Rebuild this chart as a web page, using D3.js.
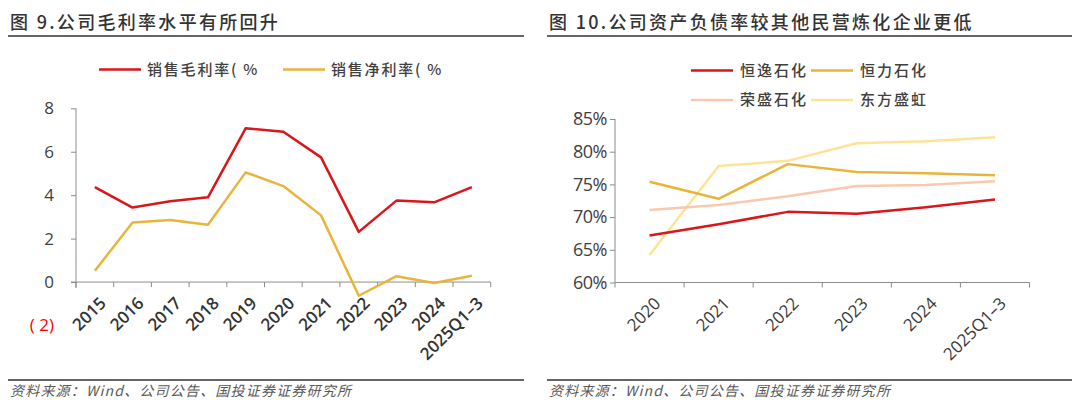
<!DOCTYPE html>
<html><head><meta charset="utf-8">
<script src="https://cdn.jsdelivr.net/npm/d3@7/dist/d3.min.js"></script>
<style>
html,body{margin:0;padding:0;background:#fff;}
svg{display:block;}
text{font-family:"Open Sans","Noto Sans CJK SC",sans-serif;}
.cjk{font-family:"Noto Sans CJK SC",sans-serif;}
</style></head>
<body><svg id="c" width="1080" height="416"></svg>
<script>
// ---- Left chart data ----
const catsL = ["2015","2016","2017","2018","2019","2020","2021","2022","2023","2024","2025Q1-3"];
const labelsL = ["2015","2016","2017","2018","2019","2020","2021","2022","2023","2024","2025Q1–3"];
const grossMargin = [4.37, 3.43, 3.72, 3.9, 7.08, 6.92, 5.74, 2.31, 3.75, 3.67, 4.37];
const netMargin   = [0.52, 2.74, 2.86, 2.64, 5.05, 4.42, 3.07, -0.63, 0.27, -0.04, 0.29];
const yTicksL = [-2, 0, 2, 4, 6, 8];
const seriesNamesL = ["销售毛利率( %", "销售净利率( %"];

// ---- Right chart data ----
const catsR = ["2020","2021","2022","2023","2024","2025Q1-3"];
const labelsR = ["2020","2021","2022","2023","2024","2025Q1–3"];
const hengyi    = [0.672, 0.689, 0.708, 0.705, 0.715, 0.727];
const hengli    = [0.754, 0.728, 0.781, 0.769, 0.767, 0.764];
const rongsheng = [0.711, 0.7185, 0.732, 0.7475, 0.749, 0.755];
const dongfang  = [0.642, 0.778, 0.786, 0.813, 0.816, 0.822];
const yTicksR = [0.60, 0.65, 0.70, 0.75, 0.80, 0.85];
const seriesNamesR = ["恒逸石化", "恒力石化", "荣盛石化", "东方盛虹"];

const titleL = "图 9.公司毛利率水平有所回升";
const titleR = "图 10.公司资产负债率较其他民营炼化企业更低";
const source = "资料来源：Wind、公司公告、国投证券证券研究所";

const RED = "#D9161C", GOLD = "#E9B43A", PEACH = "#F8C9AE", LIGHTY = "#FEE397";
const AXIS = "#8C8C8C", TXT = "#404040";

const svg = d3.select("#c");
svg.append("rect").attr("width",1080).attr("height",416).attr("fill","#fff");

function header(x0, x1, title){
  svg.append("text").attr("class","cjk").attr("x", x0+2).attr("y", 29)
    .attr("font-size", 18).attr("font-weight", 500).attr("letter-spacing", 2.3)
    .attr("fill", "#333").text(title);
  svg.append("line").attr("x1", x0).attr("x2", x1).attr("y1", 36).attr("y2", 36)
    .attr("stroke", "#333").attr("stroke-width", 1.6);
  svg.append("line").attr("x1", x0).attr("x2", x1).attr("y1", 380).attr("y2", 380)
    .attr("stroke", "#333").attr("stroke-width", 1.6);
  svg.append("text").attr("class","cjk").attr("x", x0+2).attr("y", 396)
    .attr("font-size", 14).attr("font-style","italic").attr("letter-spacing", 1.2)
    .attr("fill", "#595959").text(source);
}
header(8, 524, titleL);
header(547, 1072, titleR);

// ---------- LEFT ----------
const xL = d3.scaleBand().domain(catsL).range([76, 490.7]);
const yL = d3.scaleLinear().domain([-2, 8]).range([325.5, 108.3]);
const gL = svg.append("g");

const yAxL = d3.axisLeft(yL).tickValues(yTicksL).tickSize(5).tickPadding(17)
  .tickFormat(d => d < 0 ? "( " + (-d) + ")" : d);
const gyL = gL.append("g").attr("transform","translate(76,0)").call(yAxL);
gyL.select(".domain").remove();
gyL.selectAll(".tick line").attr("stroke", AXIS).attr("stroke-width",1)
  .attr("display", d => d < 0 ? "none" : null);
gyL.selectAll(".tick text").attr("font-size", 17).attr("font-family","Open Sans, sans-serif")
  .attr("fill", d => d < 0 ? "#FF0000" : TXT);
gL.append("line").attr("x1",76).attr("x2",76).attr("y1", yL(8)).attr("y2", yL(0)+6)
  .attr("stroke", AXIS).attr("stroke-width",1);
gL.append("line").attr("x1",71).attr("x2",xL.range()[1]).attr("y1",yL(0)).attr("y2",yL(0))
  .attr("stroke", AXIS).attr("stroke-width",1);
const bndL = catsL.map(d => xL(d)).concat([xL.range()[1]]);
gL.selectAll(".xtick").data(bndL).join("line")
  .attr("x1", d=>d).attr("x2", d=>d).attr("y1", yL(0)).attr("y2", yL(0)+5)
  .attr("stroke", AXIS).attr("stroke-width",1);
gL.selectAll(".xlab").data(catsL).join("text")
  .attr("transform", d => `translate(${xL(d)+xL.bandwidth()/2+8},${yL(0)+18}) rotate(-45)`)
  .attr("text-anchor","end").attr("dy","0.35em")
  .attr("font-size", 17).attr("font-weight", 600).attr("fill", "#333")
  .text((d,i) => labelsL[i]);

const lineL = d3.line().x((d,i) => xL(catsL[i]) + xL.bandwidth()/2).y(d => yL(d));
gL.append("path").attr("d", lineL(netMargin)).attr("fill","none").attr("stroke", GOLD).attr("stroke-width",2.5).attr("stroke-linejoin","round");
gL.append("path").attr("d", lineL(grossMargin)).attr("fill","none").attr("stroke", RED).attr("stroke-width",2.5).attr("stroke-linejoin","round");

const legL = [{n: seriesNamesL[0], c: RED, x: 99}, {n: seriesNamesL[1], c: GOLD, x: 283}];
legL.forEach(l => {
  gL.append("line").attr("x1", l.x).attr("x2", l.x+42).attr("y1", 69.5).attr("y2", 69.5)
    .attr("stroke", l.c).attr("stroke-width", 2.5);
  gL.append("text").attr("class","cjk").attr("x", l.x+48).attr("y", 69.5).attr("dy","0.35em")
    .attr("font-size", 15).attr("font-weight", 500).attr("letter-spacing", 1.8).attr("fill", TXT).text(l.n);
});

// ---------- RIGHT ----------
const xR = d3.scaleBand().domain(catsR).range([615, 1029.5]);
const yR = d3.scaleLinear().domain([0.60, 0.85]).range([282.5, 119]);
const gR = svg.append("g");
const yAxR = d3.axisLeft(yR).tickValues(yTicksR).tickSize(5).tickPadding(3)
  .tickFormat(d3.format(".0%"));
const gyR = gR.append("g").attr("transform","translate(615,0)").call(yAxR);
gyR.select(".domain").attr("stroke", AXIS).attr("d", `M0,${yR(0.85)}V${yR(0.60)}`);
gyR.selectAll(".tick line").attr("stroke", AXIS);
gyR.selectAll(".tick text").attr("font-size", 18).attr("fill", TXT).attr("letter-spacing", -0.5);
gR.append("line").attr("x1",615).attr("x2",xR.range()[1]).attr("y1",yR(0.60)).attr("y2",yR(0.60))
  .attr("stroke", AXIS).attr("stroke-width",1);
const bndR = catsR.map(d => xR(d)).concat([xR.range()[1]]);
gR.selectAll(".xtick").data(bndR).join("line")
  .attr("x1", d=>d).attr("x2", d=>d).attr("y1", yR(0.60)).attr("y2", yR(0.60)+5)
  .attr("stroke", AXIS).attr("stroke-width",1);
gR.selectAll(".xlab").data(catsR).join("text")
  .attr("transform", d => `translate(${xR(d)+xR.bandwidth()/2+8},${yR(0.60)+18}) rotate(-45)`)
  .attr("text-anchor","end").attr("dy","0.35em")
  .attr("font-size", 17).attr("fill", "#3a3a3a")
  .text((d,i) => labelsR[i]);

const lineR = d3.line().x((d,i) => xR(catsR[i]) + xR.bandwidth()/2).y(d => yR(d));
const seriesR = [
  {v: dongfang, c: LIGHTY}, {v: rongsheng, c: PEACH}, {v: hengli, c: GOLD}, {v: hengyi, c: RED}
];
seriesR.forEach(s => gR.append("path").attr("d", lineR(s.v)).attr("fill","none")
  .attr("stroke", s.c).attr("stroke-width", 2.5).attr("stroke-linejoin","round"));

const legR = [
  {n: seriesNamesR[0], c: RED, x: 691, y: 70.5},
  {n: seriesNamesR[1], c: GOLD, x: 811, y: 70.5},
  {n: seriesNamesR[2], c: PEACH, x: 691, y: 100},
  {n: seriesNamesR[3], c: LIGHTY, x: 811, y: 100}
];
legR.forEach(l => {
  gR.append("line").attr("x1", l.x).attr("x2", l.x+42).attr("y1", l.y).attr("y2", l.y)
    .attr("stroke", l.c).attr("stroke-width", 2.5);
  gR.append("text").attr("class","cjk").attr("x", l.x+49).attr("y", l.y).attr("dy","0.35em")
    .attr("font-size", 15).attr("font-weight", 500).attr("letter-spacing", 2).attr("fill", TXT).text(l.n);
});
</script></body></html>
